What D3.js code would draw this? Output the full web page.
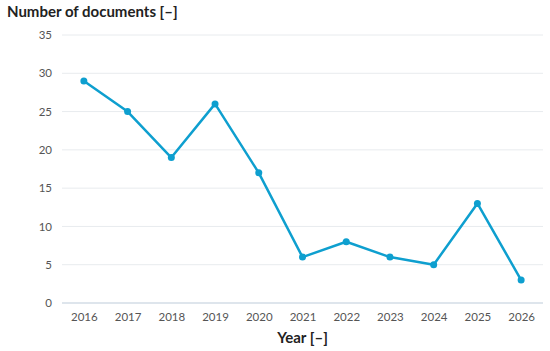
<!DOCTYPE html>
<html>
<head>
<meta charset="utf-8">
<script src="https://cdn.jsdelivr.net/npm/d3@7"></script>
<style>
  body { margin: 0; background: #fff; }
  text { font-family: Lato, "Open Sans", sans-serif; }
</style>
</head>
<body>
<div id="chart"></div>
<script>
var years = ["2016", "2017", "2018", "2019", "2020", "2021", "2022", "2023", "2024", "2025", "2026"];
var documents = [29, 25, 19, 26, 17, 6, 8, 6, 5, 13, 3];
var yTicks = [0, 5, 10, 15, 20, 25, 30, 35];

var width = 550, height = 351;
var plotLeft = 62, plotRight = 543, plotTop = 35, plotBottom = 303;

var svg = d3.select("#chart")
  .append("svg")
  .attr("width", width)
  .attr("height", height);

var x = d3.scalePoint()
  .domain(years)
  .range([plotLeft, plotRight])
  .padding(0.5);

var y = d3.scaleLinear()
  .domain([0, 35])
  .range([plotBottom, plotTop]);

//gridlines
svg.append("g")
  .selectAll("line")
  .data(yTicks)
  .enter()
  .append("line")
  .attr("x1", plotLeft)
  .attr("x2", plotRight)
  .attr("y1", function(d) { return y(d); })
  .attr("y2", function(d) { return y(d); })
  .attr("stroke", function(d) { return d === 0 ? "#d3dde6" : "#e8ebee"; })
  .attr("stroke-width", function(d) { return d === 0 ? 1.5 : 1; });

//y axis labels
var yAxis = d3.axisLeft(y).tickValues(yTicks).tickSize(0).tickPadding(10);
svg.append("g")
  .attr("transform", "translate(" + plotLeft + ",0)")
  .call(yAxis)
  .call(function(g) { g.select(".domain").remove(); })
  .selectAll("text")
  .attr("font-size", 11.5)
  .attr("fill", "#555")
  .style("font-family", "Lato, 'Open Sans', sans-serif");

//x axis labels
var xAxis = d3.axisBottom(x).tickSize(0).tickPadding(10);
svg.append("g")
  .attr("transform", "translate(0," + plotBottom + ")")
  .call(xAxis)
  .call(function(g) { g.select(".domain").remove(); })
  .selectAll("text")
  .attr("font-size", 11.5)
  .attr("fill", "#555")
  .style("font-family", "Lato, 'Open Sans', sans-serif");

//line
var line = d3.line()
  .x(function(d, i) { return x(years[i]); })
  .y(function(d) { return y(d); });

svg.append("path")
  .datum(documents)
  .attr("d", line)
  .attr("fill", "none")
  .attr("stroke", "#0e9fcf")
  .attr("stroke-width", 2.5)
  .attr("stroke-linejoin", "round");

svg.append("g")
  .selectAll("circle")
  .data(documents)
  .enter()
  .append("circle")
  .attr("cx", function(d, i) { return x(years[i]); })
  .attr("cy", function(d) { return y(d); })
  .attr("r", 3.5)
  .attr("fill", "#0e9fcf");

//titles
svg.append("text")
  .attr("x", 7)
  .attr("y", 17)
  .attr("font-size", 15)
  .attr("font-weight", "bold")
  .attr("fill", "#222")
  .text("Number of documents [\u2013]");

svg.append("text")
  .attr("x", (plotLeft + plotRight) / 2)
  .attr("y", 343)
  .attr("text-anchor", "middle")
  .attr("font-size", 15)
  .attr("font-weight", "bold")
  .attr("fill", "#222")
  .text("Year [\u2013]");
</script>
</body>
</html>
